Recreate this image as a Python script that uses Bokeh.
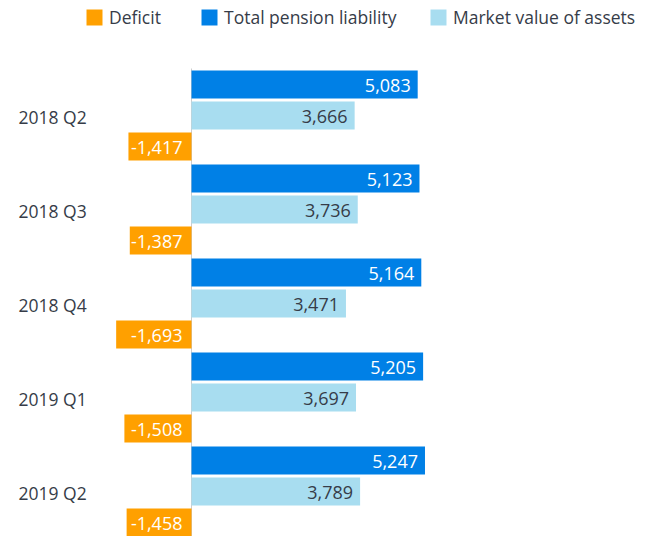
from bokeh.plotting import figure
from bokeh.models import ColumnDataSource, Range1d, Legend, LegendItem
from bokeh.transform import dodge
from bokeh.core.properties import value
from bokeh.embed import file_html
from bokeh.resources import INLINE

categories = ["2018 Q2", "2018 Q3", "2018 Q4", "2019 Q1", "2019 Q2"]
liability = [5083, 5123, 5164, 5205, 5247]
assets = [3666, 3736, 3471, 3697, 3789]
deficit = [-1417, -1387, -1693, -1508, -1458]

FONT = "Open Sans"
TXT = "#363c48"
C_DEF = "#ffa000"
C_LIA = "#0080e6"
C_AST = "#a8ddf0"

W, H = 636, 536
zero_px = 191.0
px_per_unit = 0.0445
cat_px = 94.0
first_center = 115.0

x0 = -zero_px / px_per_unit
x1 = (W - zero_px) / px_per_unit
y_top = -first_center / cat_px
y_bot = (H - first_center) / cat_px

fmt = lambda v: f"{v:,}"
src = ColumnDataSource(dict(
    idx=list(range(len(categories))),
    cat=categories,
    liability=liability,
    assets=assets,
    deficit=deficit,
    zero=[0] * len(categories),
    lia_lbl=[fmt(v) for v in liability],
    ast_lbl=[fmt(v) for v in assets],
    def_lbl=[fmt(v) for v in deficit],
))

p = figure(width=W, height=H, output_backend="svg", toolbar_location=None,
           x_range=Range1d(x0, x1), y_range=Range1d(y_bot, y_top),
           min_border=0, min_border_left=0, min_border_right=0,
           min_border_top=0, min_border_bottom=0)
p.xaxis.visible = False
p.yaxis.visible = False
p.grid.visible = False
p.outline_line_color = None
p.background_fill_color = "white"
p.border_fill_color = "white"

off = 31.0 / cat_px
bh = 28.0 / cat_px

# zero line
p.segment(x0=0, y0=-0.5, x1=0, y1=len(categories) - 0.5, line_color="#cccccc", line_width=1)

r_lia = p.hbar(y=dodge("idx", -off, range=p.y_range), left=0, right="liability", height=bh,
               fill_color=C_LIA, line_color=None, source=src)
r_ast = p.hbar(y=dodge("idx", 0, range=p.y_range), left=0, right="assets", height=bh,
               fill_color=C_AST, line_color=None, source=src)
r_def = p.hbar(y=dodge("idx", off, range=p.y_range), left="deficit", right=0, height=bh,
               fill_color=C_DEF, line_color=None, source=src)

vfs = "18px"
p.text(x="liability", y=dodge("idx", -off, range=p.y_range), text="lia_lbl", source=src,
       text_align="right", text_baseline="middle", x_offset=-7, y_offset=1,
       text_color="white", text_font=value(FONT), text_font_size=vfs)
p.text(x="assets", y=dodge("idx", 0, range=p.y_range), text="ast_lbl", source=src,
       text_align="right", text_baseline="middle", x_offset=-7, y_offset=1,
       text_color=TXT, text_font=value(FONT), text_font_size=vfs)
p.text(x="zero", y=dodge("idx", off, range=p.y_range), text="def_lbl", source=src,
       text_align="right", text_baseline="middle", x_offset=-9, y_offset=1,
       text_color="white", text_font=value(FONT), text_font_size=vfs)

# category labels
lbl_x = x0 + 18 / px_per_unit
p.text(x=lbl_x, y="idx", text="cat", source=src, text_align="left", text_baseline="middle",
       y_offset=1, text_color=TXT, text_font=value(FONT), text_font_size="17.5px")

leg_items = [("Deficit", r_def, 84), ("Total pension liability", r_lia, 199),
             ("Market value of assets", r_ast, 428)]
for label, rend, lx in leg_items:
    lg = Legend(items=[LegendItem(label=label, renderers=[rend])],
                orientation="horizontal", location=(lx, H - 29), padding=0, margin=0,
                glyph_width=20, glyph_height=20, label_height=20, label_standoff=5,
                label_text_font=FONT, label_text_font_size="17.5px", label_text_color=TXT,
                border_line_color=None, background_fill_alpha=0)
    p.add_layout(lg)

open("out.html", "w").write(file_html(p, INLINE))
